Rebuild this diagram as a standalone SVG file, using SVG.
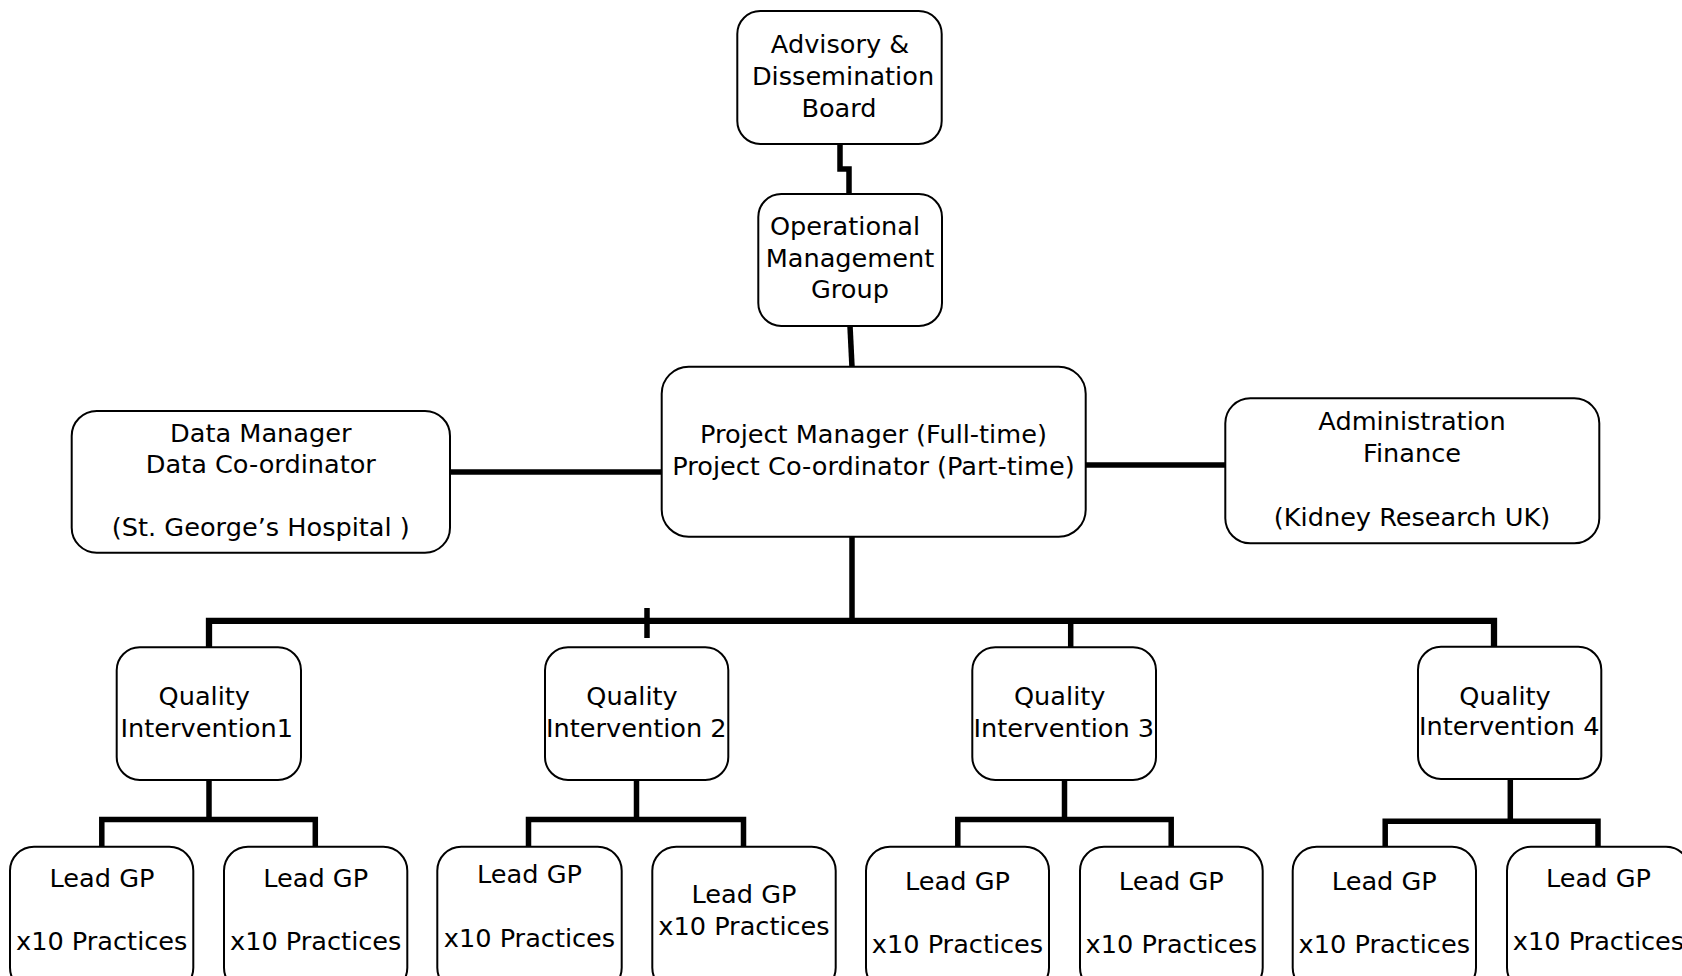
<svg xmlns="http://www.w3.org/2000/svg" width="1682" height="976" viewBox="0 0 1682 976">
<style>
.box{fill:#fff;stroke:#000;stroke-width:2}
.t{font-family:"DejaVu Sans","Verdana",sans-serif;font-size:25.6px;fill:#000;text-anchor:middle}
.c{fill:none;stroke:#000;stroke-width:5.5;stroke-linecap:butt;stroke-linejoin:miter}
</style>
<rect width="1682" height="976" fill="#fff"/>
<g id="connectors">
<path class="c" d="M840,144 V169 H849 V194"/>
<path class="c" d="M850,326 L852,367"/>
<path class="c" d="M450,472 H662"/>
<path class="c" d="M1086,465 H1225"/>
<path class="c" d="M852,537 V621"/>
<path class="c" style="stroke-width:6.3" d="M209,648 V620.8 H1494 V647"/>
<path class="c" d="M647,608 V638"/>
<path class="c" d="M1070.7,621 V650"/>
<path class="c" d="M209,780 V819.5"/>
<path class="c" d="M101.8,847 V819.5 H315.3 V847"/>
<path class="c" d="M636.5,780 V819.5"/>
<path class="c" d="M528.5,847 V819.5 H743.5 V847"/>
<path class="c" d="M1064.5,780 V819.5"/>
<path class="c" d="M957.8,847 V819.5 H1171.2 V847"/>
<path class="c" d="M1510.3,779 V821.3"/>
<path class="c" d="M1385.2,847 V821.3 H1598 V847"/>
</g>
<g id="advisory">
<rect class="box" x="737.3" y="11" width="204.4" height="133" rx="23"/>
<text class="t" x="840" y="53.3">Advisory &amp;</text>
<text class="t" x="843" y="85">Dissemination</text>
<text class="t" x="839" y="116.7">Board</text>
</g>
<g id="operational">
<rect class="box" x="758.3" y="194" width="183.7" height="132" rx="23"/>
<text class="t" x="845" y="235">Operational</text>
<text class="t" x="850" y="266.7">Management</text>
<text class="t" x="850" y="298.3">Group</text>
</g>
<g id="project-manager">
<rect class="box" x="661.7" y="366.7" width="424" height="170" rx="27"/>
<text class="t" x="873.5" y="443">Project Manager (Full-time)</text>
<text class="t" x="873.5" y="475">Project Co-ordinator (Part-time)</text>
</g>
<g id="data-manager">
<rect class="box" x="71.7" y="411" width="378.3" height="141.7" rx="25"/>
<text class="t" x="260.8" y="441.7">Data Manager</text>
<text class="t" x="260.8" y="473.3">Data Co-ordinator</text>
<text class="t" x="260.8" y="536">(St. George’s Hospital )</text>
</g>
<g id="administration">
<rect class="box" x="1225.3" y="398.3" width="374" height="145" rx="25"/>
<text class="t" x="1412" y="430">Administration</text>
<text class="t" x="1412" y="461.7">Finance</text>
<text class="t" x="1412" y="525.7">(Kidney Research UK)</text>
</g>
<g id="qi1">
<rect class="box" x="116.7" y="647.3" width="184.3" height="132.7" rx="23"/>
<text class="t" x="204.3" y="705">Quality</text>
<text class="t" x="206.7" y="736.7">Intervention1</text>
</g>
<g id="qi2">
<rect class="box" x="545" y="647.3" width="183.3" height="132.7" rx="23"/>
<text class="t" x="632" y="705">Quality</text>
<text class="t" x="636.3" y="736.7">Intervention 2</text>
</g>
<g id="qi3">
<rect class="box" x="972.3" y="647.3" width="183.7" height="132.7" rx="23"/>
<text class="t" x="1059.7" y="705">Quality</text>
<text class="t" x="1063.8" y="736.7">Intervention 3</text>
</g>
<g id="qi4">
<rect class="box" x="1418" y="646.7" width="183.3" height="132.3" rx="23"/>
<text class="t" x="1505" y="705">Quality</text>
<text class="t" x="1509.2" y="735">Intervention 4</text>
</g>
<g id="gp1">
<rect class="box" x="10" y="846.7" width="183.3" height="145" rx="24"/>
<text class="t" x="102" y="886.7">Lead GP</text>
<text class="t" x="101.7" y="950">x10 Practices</text>
</g>
<g id="gp2">
<rect class="box" x="224" y="846.7" width="183.3" height="145" rx="24"/>
<text class="t" x="315.7" y="886.7">Lead GP</text>
<text class="t" x="315.7" y="950">x10 Practices</text>
</g>
<g id="gp3">
<rect class="box" x="437.3" y="846.7" width="184.4" height="145" rx="24"/>
<text class="t" x="529.5" y="883.3">Lead GP</text>
<text class="t" x="529.5" y="946.7">x10 Practices</text>
</g>
<g id="gp4">
<rect class="box" x="652.3" y="846.7" width="183.4" height="145" rx="24"/>
<text class="t" x="744" y="903.3">Lead GP</text>
<text class="t" x="744" y="935">x10 Practices</text>
</g>
<g id="gp5">
<rect class="box" x="866" y="846.7" width="183" height="145" rx="24"/>
<text class="t" x="957.5" y="890">Lead GP</text>
<text class="t" x="957.5" y="953.3">x10 Practices</text>
</g>
<g id="gp6">
<rect class="box" x="1080" y="846.7" width="182.7" height="145" rx="24"/>
<text class="t" x="1171.3" y="890">Lead GP</text>
<text class="t" x="1171.3" y="953.3">x10 Practices</text>
</g>
<g id="gp7">
<rect class="box" x="1292.7" y="846.7" width="183.3" height="145" rx="24"/>
<text class="t" x="1384.3" y="890">Lead GP</text>
<text class="t" x="1384.3" y="953.3">x10 Practices</text>
</g>
<g id="gp8">
<rect class="box" x="1507" y="846.7" width="183" height="145" rx="24"/>
<text class="t" x="1598.5" y="886.7">Lead GP</text>
<text class="t" x="1598.5" y="950">x10 Practices</text>
</g>
</svg>
